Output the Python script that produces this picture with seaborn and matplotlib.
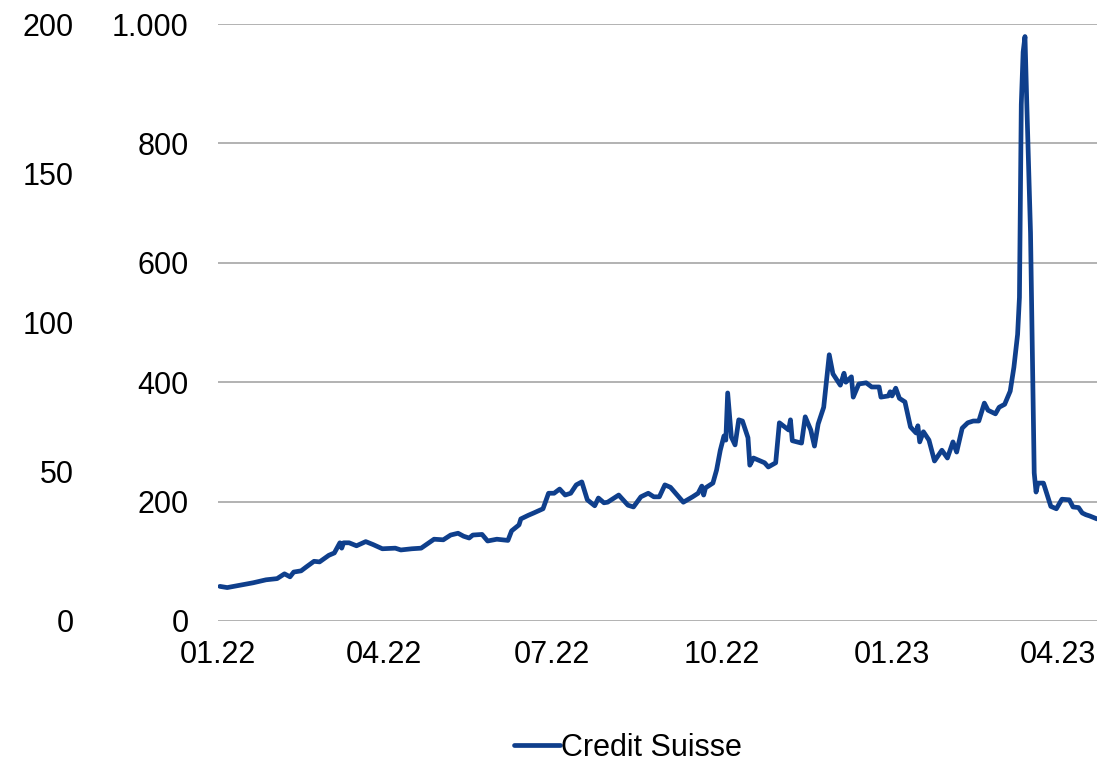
import pandas as pd
import matplotlib
matplotlib.use("Agg")
import matplotlib.pyplot as plt
import matplotlib.dates as mdates
from matplotlib.ticker import FuncFormatter
import seaborn as sns

# Credit Suisse CDS spread
dates = [
    "2022-01-02", "2022-01-06", "2022-01-13", "2022-01-20", "2022-01-27", "2022-02-02",
    "2022-02-06", "2022-02-09", "2022-02-11", "2022-02-15", "2022-02-18", "2022-02-22",
    "2022-02-25", "2022-03-02", "2022-03-05", "2022-03-08", "2022-03-09", "2022-03-10",
    "2022-03-13", "2022-03-17", "2022-03-22", "2022-03-26", "2022-03-31", "2022-04-07",
    "2022-04-10", "2022-04-16", "2022-04-21", "2022-04-28", "2022-05-03", "2022-05-07",
    "2022-05-11", "2022-05-14", "2022-05-17", "2022-05-19", "2022-05-24", "2022-05-27",
    "2022-06-01", "2022-06-07", "2022-06-09", "2022-06-13", "2022-06-14", "2022-06-18",
    "2022-06-21", "2022-06-26", "2022-06-29", "2022-07-02", "2022-07-05", "2022-07-08",
    "2022-07-11", "2022-07-14", "2022-07-17", "2022-07-20", "2022-07-24", "2022-07-26",
    "2022-07-29", "2022-07-31", "2022-08-02", "2022-08-06", "2022-08-11", "2022-08-14",
    "2022-08-18", "2022-08-22", "2022-08-25", "2022-08-28", "2022-08-31", "2022-09-03",
    "2022-09-10", "2022-09-15", "2022-09-18", "2022-09-20", "2022-09-21", "2022-09-22",
    "2022-09-26", "2022-09-28", "2022-09-30", "2022-10-02", "2022-10-03", "2022-10-04",
    "2022-10-06", "2022-10-08", "2022-10-10", "2022-10-12", "2022-10-15", "2022-10-16",
    "2022-10-18", "2022-10-24", "2022-10-26", "2022-10-30", "2022-11-01", "2022-11-06",
    "2022-11-07", "2022-11-08", "2022-11-13", "2022-11-15", "2022-11-18", "2022-11-20",
    "2022-11-22", "2022-11-25", "2022-11-28", "2022-11-30", "2022-12-04", "2022-12-06",
    "2022-12-07", "2022-12-10", "2022-12-11", "2022-12-14", "2022-12-18", "2022-12-21",
    "2022-12-25", "2022-12-26", "2022-12-30", "2022-12-31", "2023-01-01", "2023-01-03",
    "2023-01-05", "2023-01-08", "2023-01-11", "2023-01-14", "2023-01-15", "2023-01-16",
    "2023-01-18", "2023-01-21", "2023-01-24", "2023-01-28", "2023-01-31", "2023-02-03",
    "2023-02-05", "2023-02-08", "2023-02-11", "2023-02-14", "2023-02-17", "2023-02-20",
    "2023-02-22", "2023-02-26", "2023-02-28", "2023-03-03", "2023-03-06", "2023-03-08",
    "2023-03-10", "2023-03-11", "2023-03-12", "2023-03-13", "2023-03-14", "2023-03-15",
    "2023-03-17", "2023-03-19", "2023-03-20", "2023-03-21", "2023-03-24", "2023-03-28",
    "2023-03-31", "2023-04-03", "2023-04-07", "2023-04-09", "2023-04-12", "2023-04-14",
    "2023-04-16", "2023-04-18", "2023-04-22",
]
spread = [
    58, 56, 60, 64, 69, 71,
    79, 74, 82, 84, 91, 100,
    99, 110, 114, 131, 122, 131,
    131, 126, 133, 128, 121, 122,
    119, 121, 122, 137, 136, 144,
    147, 142, 139, 144, 145, 134,
    137, 135, 151, 161, 171, 177,
    181, 188, 214, 214, 221, 211,
    214, 228, 233, 203, 193, 206,
    198, 199, 203, 211, 194, 191,
    208, 214, 208, 208, 228, 224,
    199, 208, 214, 226, 211, 223,
    231, 253, 286, 310, 303, 382,
    308, 295, 337, 335, 307, 261,
    273, 265, 258, 265, 332, 320,
    337, 302, 298, 342, 320, 293,
    330, 358, 446, 414, 395, 415,
    400, 409, 375, 397, 399, 392,
    392, 375, 377, 384, 377, 390,
    373, 367, 325, 315, 327, 300,
    317, 303, 268, 286, 273, 300,
    283, 323, 332, 335, 335, 365,
    353, 347, 358, 363, 385, 425,
    480, 542, 865, 953, 979, 865,
    650, 248, 216, 231, 231, 192,
    188, 204, 203, 191, 190, 181,
    178, 176, 171,
]

df = pd.DataFrame({"Datum": pd.to_datetime(dates), "Credit Suisse": spread})

sns.set_theme(style="white")
plt.rcParams["font.family"] = ["Liberation Sans", "DejaVu Sans"]

fig = plt.figure(figsize=(11.17, 7.67), dpi=100)
ax = fig.add_axes([218 / 1117, 1 - 621 / 767, (1097 - 218) / 1117, (621 - 24) / 767])

line_color = "#0F3F8C"
sns.lineplot(data=df, x="Datum", y="Credit Suisse", ax=ax, color=line_color,
             linewidth=3.4, label="Credit Suisse")

ax.set_xlim(pd.Timestamp("2022-01-01"), pd.Timestamp("2023-04-22"))
ax.set_ylim(0, 1000)
ax.set_yticks(range(0, 1001, 200))
ax.yaxis.set_major_formatter(FuncFormatter(lambda v, p: f"{int(v):,}".replace(",", ".")))
ax.grid(axis="y", color="#A6A6A6", linewidth=1.2)
ax.grid(axis="x", visible=False)
ax.set_axisbelow(True)

ticks = pd.to_datetime(["2022-01-01", "2022-04-01", "2022-07-01",
                        "2022-10-01", "2023-01-01", "2023-04-01"])
ax.set_xticks(ticks)
ax.xaxis.set_major_formatter(mdates.DateFormatter("%m.%y"))
ax.tick_params(axis="x", length=0, pad=14, labelsize=22, colors="black")
ax.tick_params(axis="y", length=0, pad=21, labelsize=22, colors="black")
ax.set_xlabel("")
ax.set_ylabel("")
for s in ax.spines.values():
    s.set_visible(False)

# outer left scale 0-200
ax2 = ax.twinx()
ax2.set_ylim(0, 200)
ax2.set_yticks(range(0, 201, 50))
ax2.yaxis.set_ticks_position("left")
ax2.tick_params(axis="y", length=0, pad=104, labelsize=22, colors="black")
ax2.grid(False)
for s in ax2.spines.values():
    s.set_visible(False)

ax.get_legend().remove()
handles, labels = ax.get_legend_handles_labels()
leg = fig.legend(handles, labels, loc="center", bbox_to_anchor=(628 / 1117, 1 - 748 / 767),
                 frameon=False, fontsize=22, handlelength=1.5, handletextpad=0.05)
for t in leg.get_texts():
    t.set_color("black")

fig.savefig("out.png", dpi=100)
